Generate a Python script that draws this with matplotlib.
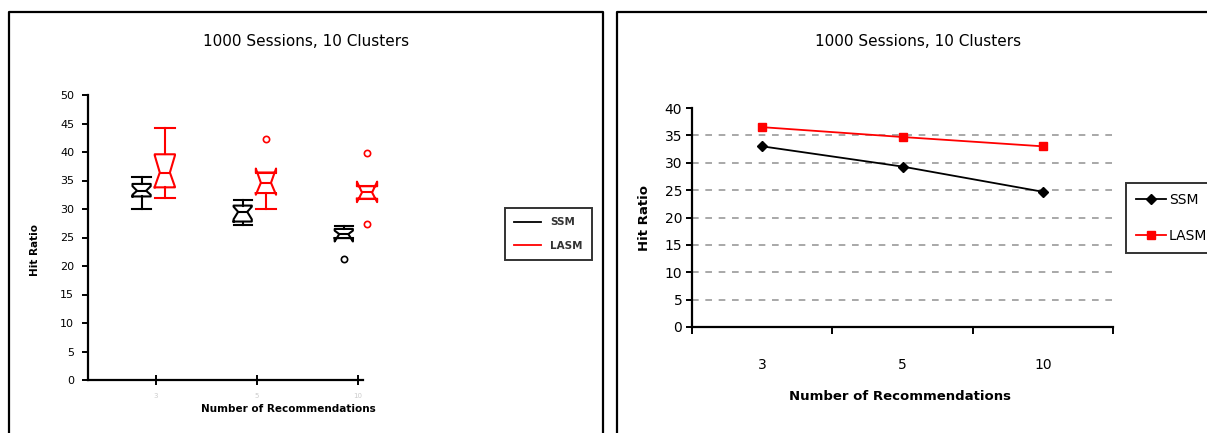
import matplotlib
matplotlib.use("Agg")
import matplotlib.pyplot as plt
from matplotlib.lines import Line2D

# --- data ---
categories = ["3", "5", "10"]

# left panel: box plot summaries per number of recommendations
ssm_med = [33.2, 29.5, 25.6]
ssm_q1 = [32.2, 27.8, 24.9]
ssm_q3 = [34.4, 30.6, 26.5]
ssm_lo = [30.0, 27.2, 24.9]
ssm_hi = [35.6, 31.6, 27.0]
ssm_cilo = [32.5, 28.2, 24.3]
ssm_cihi = [34.0, 30.4, 26.2]
ssm_fliers = [[], [], [21.2]]

lasm_med = [36.4, 34.6, 32.9]
lasm_q1 = [33.8, 32.8, 31.8]
lasm_q3 = [39.6, 36.4, 34.0]
lasm_lo = [32.0, 30.0, 31.8]
lasm_hi = [44.2, 36.4, 34.0]
lasm_cilo = [33.9, 32.5, 31.2]
lasm_cihi = [39.4, 37.1, 34.8]
lasm_fliers = [[], [42.3], [39.8, 27.4]]

# right panel: mean hit ratio
ssm_mean = [33.0, 29.3, 24.7]
lasm_mean = [36.5, 34.7, 33.0]

W, H = 1207, 433
fig = plt.figure(figsize=(W / 100, H / 100), dpi=100)
fig.patch.set_facecolor("white")

def fx(px):
    return px / W

def fy(py):
    return 1 - py / H

# panel frames
for xs, ys in [([9, 9, 603, 603], [440, 12, 12, 440]),
               ([617, 617, 1215], [440, 12, 12])]:
    fig.add_artist(Line2D([fx(v) for v in xs], [fy(v) for v in ys],
                          color="black", lw=1.6, transform=fig.transFigure))

# ---------------- left panel ----------------
ax1 = fig.add_axes([fx(88), fy(380), fx(363) - fx(88), fy(95) - fy(380)])
for s in ["top", "right"]:
    ax1.spines[s].set_visible(False)
for s in ["left", "bottom"]:
    ax1.spines[s].set_linewidth(1.6)

def stats(med, q1, q3, lo, hi, cilo, cihi, fl):
    out = []
    for i in range(len(med)):
        out.append(dict(med=med[i], q1=q1[i], q3=q3[i], whislo=lo[i], whishi=hi[i],
                        cilo=cilo[i], cihi=cihi[i], fliers=fl[i]))
    return out

pos = [1, 2, 3]
for st, off, col, w in [(stats(ssm_med, ssm_q1, ssm_q3, ssm_lo, ssm_hi, ssm_cilo, ssm_cihi, ssm_fliers), -0.14, "black", 0.18),
                        (stats(lasm_med, lasm_q1, lasm_q3, lasm_lo, lasm_hi, lasm_cilo, lasm_cihi, lasm_fliers), 0.09, "red", 0.20)]:
    parts = ax1.bxp(st, positions=[p + off for p in pos], widths=w, shownotches=True,
                    boxprops=dict(color=col, lw=1.5), whiskerprops=dict(color=col, lw=1.5),
                    capprops=dict(color=col, lw=1.5), medianprops=dict(color=col, lw=1.5),
                    flierprops=dict(marker="o", markerfacecolor="none", markeredgecolor=col,
                                    markersize=4.5, markeredgewidth=1.2),
                    capwidths=w, manage_ticks=False)
    for arts in parts.values():
        for a in arts:
            a.set_clip_on(False)

ax1.set_xlim(0.33, 3.05)
ax1.set_ylim(0, 50)
ax1.set_yticks(range(0, 51, 5))
ax1.set_xticks(pos)
ax1.set_xticklabels(categories, fontsize=5, color="#cccccc")
ax1.tick_params(axis="x", direction="inout", length=7, width=1.4, pad=6)
ax1.tick_params(axis="y", direction="out", length=4, width=1.4, labelsize=8, pad=6)

fig.text(fx(306), fy(42), "1000 Sessions, 10 Clusters", ha="center", va="center", fontsize=11)
fig.text(fx(288), fy(409), "Number of Recommendations", ha="center", va="center",
         fontsize=7.5, fontweight="bold")
fig.text(fx(35), fy(250), "Hit Ratio", ha="center", va="center", rotation=90,
         fontsize=7.5, fontweight="bold")

h1 = [Line2D([], [], color="black", lw=1.3), Line2D([], [], color="red", lw=1.3)]
leg1 = fig.legend(h1, ["SSM", "LASM"], loc="upper left",
                  bbox_to_anchor=(fx(505), fy(208)), fontsize=7.5, frameon=True,
                  fancybox=False, edgecolor="black", handlelength=2.6,
                  borderpad=0.9, labelspacing=1.3, borderaxespad=0)
leg1.get_frame().set_linewidth(1.4)
for t in leg1.get_texts():
    t.set_fontweight("bold")
    t.set_color("#333333")

# ---------------- right panel ----------------
ax2 = fig.add_axes([fx(692), fy(327), fx(1113) - fx(692), fy(108) - fy(327)])
for s in ["top", "right"]:
    ax2.spines[s].set_visible(False)
for s in ["left", "bottom"]:
    ax2.spines[s].set_linewidth(1.6)

xc = [0.5, 1.5, 2.5]
ax2.plot(xc, ssm_mean, color="black", lw=1.3, marker="D", markersize=5, label="SSM")
ax2.plot(xc, lasm_mean, color="red", lw=1.3, marker="s", markersize=6, label="LASM")
ax2.set_xlim(0, 3)
ax2.set_ylim(0, 40)
ax2.set_yticks(range(0, 41, 5))
ax2.set_xticks([0, 1, 2, 3])
ax2.set_xticklabels([])
ax2.set_xticks(xc, minor=True)
ax2.set_xticklabels(categories, minor=True, fontsize=10)
ax2.tick_params(axis="x", which="minor", length=0, pad=22)
ax2.tick_params(axis="x", which="major", direction="out", length=5, width=1.4)
ax2.tick_params(axis="y", direction="out", length=4, width=1.4, labelsize=10, pad=3)
for v in range(5, 40, 5):
    ax2.axhline(v, color="#999999", lw=1.2, ls=(0, (4, 4)), zorder=0)

fig.text(fx(918), fy(42), "1000 Sessions, 10 Clusters", ha="center", va="center", fontsize=11)
fig.text(fx(900), fy(397), "Number of Recommendations", ha="center", va="center",
         fontsize=9.5, fontweight="bold")
fig.text(fx(645), fy(218), "Hit Ratio", ha="center", va="center", rotation=90,
         fontsize=9.5, fontweight="bold")

leg2 = fig.legend(loc="upper left", bbox_to_anchor=(fx(1126), fy(183)), fontsize=10,
                  frameon=True, fancybox=False, edgecolor="black", handlelength=2.2,
                  borderpad=0.7, labelspacing=1.6, borderaxespad=0, handletextpad=0.2)
leg2.get_frame().set_linewidth(1.4)

fig.savefig("out.png", dpi=100)
